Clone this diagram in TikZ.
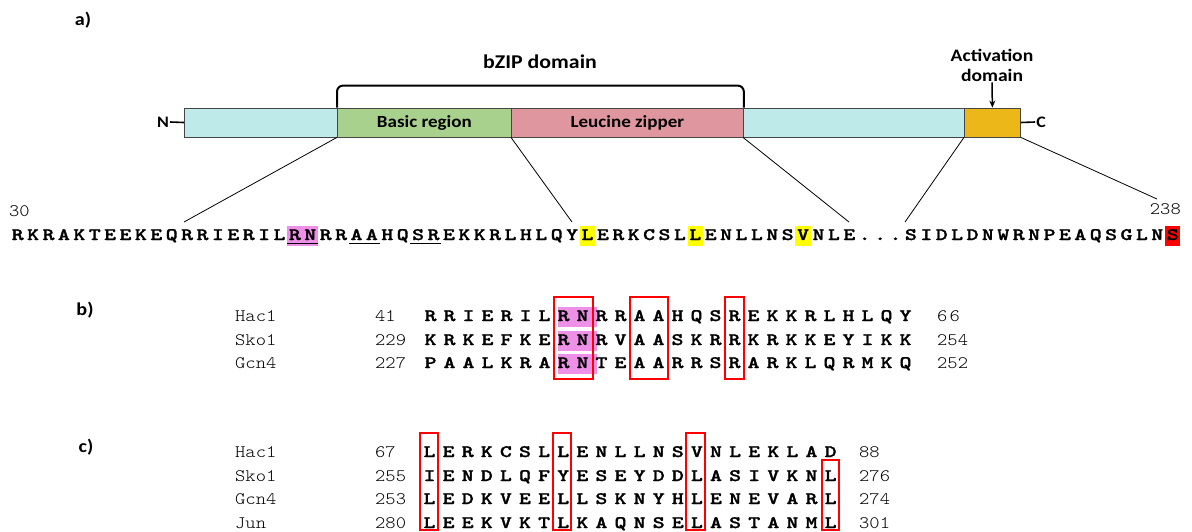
\documentclass[tikz,border=0pt]{standalone}
\usepackage{fontspec}
\setmainfont{Carlito}
\newfontfamily\seqfont[FakeBold=1.3]{lmmonolt10-bold.otf}
\usepackage{graphicx}
\usetikzlibrary{arrows.meta}
\definecolor{cyanseg}{RGB}{190,234,234}
\definecolor{greenseg}{RGB}{169,209,142}
\definecolor{pinkseg}{RGB}{224,150,158}
\definecolor{orangeseg}{RGB}{236,183,24}
\definecolor{hlmag}{RGB}{238,144,232}
\definecolor{hlyel}{RGB}{255,255,0}
\definecolor{hlred}{RGB}{255,0,0}
\definecolor{boxred}{RGB}{255,0,0}
\definecolor{segborder}{RGB}{70,70,70}
\newcommand\hsc[1]{\scalebox{1.12}[1]{#1}}
\newcommand\hsb[1]{\scalebox{1.3}[1]{#1}}
\newcommand\alnrow[5]{\foreach \c [count=\i from 0] in {#5} \node[seqch] (#1\i) at ({#2+#3*\i},#4) {\hsb{\c}};}
\tikzset{
  seg/.style={draw=segborder, line width=0.8pt, minimum height=29pt, inner sep=0pt, anchor=west,
    font=\fontsize{17}{20}\selectfont\bfseries},
  toplabel/.style={font=\fontsize{19.5}{22}\selectfont\bfseries, inner sep=1pt},
  actlabel/.style={font=\fontsize{17.5}{20}\selectfont\bfseries, inner sep=1pt, align=center},
  termlab/.style={font=\fontsize{16}{18}\selectfont\bfseries, inner sep=1pt},
  termline/.style={line width=1.6pt},
  panellab/.style={font=\fontsize{18}{20}\selectfont\bfseries, inner sep=0pt},
  zoomline/.style={line width=0.8pt},
  bracket/.style={line width=2pt, rounded corners=6pt},
  seqch/.style={font=\seqfont\fontsize{17.5}{18}\selectfont, inner sep=0pt, anchor=base},
  namel/.style={font=\ttfamily\fontseries{l}\fontsize{17.5}{18}\selectfont, inner sep=0pt, anchor=base west},
  uline/.style={line width=1.3pt},
  redbox/.style={draw=boxred, line width=1.8pt},
}
\begin{document}
\begin{tikzpicture}[x=1pt,y=-1pt]
\useasboundingbox (0,0) rectangle (1192,531);
% panel labels
\node[panellab] (pa) at (83,20) {\hsc{a)}};
\node[panellab] (pb) at (85,310) {\hsc{b)}};
\node[panellab] (pc) at (86,447) {\hsc{c)}};
% bar
\node[seg, fill=cyanseg, minimum width=153pt] (nterm) at (184,122.5) {};
\node[seg, fill=greenseg, minimum width=174pt] (basic) at (337,122.5) {\hsc{Basic region}};
\node[seg, fill=pinkseg, minimum width=232pt] (leu) at (511,122.5) {\hsc{Leucine zipper}};
\node[seg, fill=cyanseg, minimum width=221pt] (mid) at (743,122.5) {};
\node[seg, fill=orangeseg, minimum width=56pt] (act) at (964,122.5) {};
\node[termlab] (nlab) at (163,122) {\hsc{N}};
\node[termlab] (clab) at (1041,122) {\hsc{C}};
\draw[termline] (nlab.east) -- (nterm.west);
\draw[termline] (act.east) -- (clab.west);
\draw[bracket] (basic.north west) -- ++(0,-22) -| (leu.north east);
\node[toplabel] (bzip) at (540,62) {\hsc{bZIP domain}};
\node[actlabel] (actlab) at (992,65) {{\bfseries\hsc{Activation}}\\{\bfseries\hsc{domain}}};
\draw[line width=1.5pt, -{Stealth[length=7pt,width=6pt]}] (actlab.south) -- (act.north);
% zoom lines
\coordinate (z1) at (184,222);
\coordinate (z2) at (572,222);
\coordinate (z3) at (849,222);
\coordinate (z4) at (905,222);
\coordinate (z5) at (1157,199);
\draw[zoomline] (basic.south west) -- (z1);
\draw[zoomline] (leu.south west) -- (z2);
\draw[zoomline] (mid.south west) -- (z3);
\draw[zoomline] (act.south west) -- (z4);
\draw[zoomline] (act.south east) -- (z5);
% top sequence
\node[namel, anchor=base west] (n30) at (9,216) {\hsc{30}};
\node[namel, anchor=base east] (n238) at (1181,214) {\hsc{238}};
\fill[hlmag] (287.2,226) rectangle (318,246);
\fill[hlyel] (579.8,226) rectangle (595.2,246);
\fill[hlyel] (687.6,226) rectangle (703,246);
\fill[hlyel] (795.4,226) rectangle (810.8,246);
\fill[hlred] (1165,226) rectangle (1180.4,246);
\foreach \c [count=\i from 0] in {R,K,R,A,K,T,E,E,K,E,Q,R,R,I,E,R,I,L,R,N,R,R,A,A,H,Q,S,R,E,K,K,R,L,H,L,Q,Y,L,E,R,K,C,S,L,L,E,N,L,L,N,S,V,N,L,E,.,.,.,S,I,D,L,D,N,W,R,N,P,E,A,Q,S,G,L,N,S}
  \node[seqch] (t\i) at ({17.7+15.4*\i},240) {\hsb{\c}};
\draw[uline] (287.2,243.7) -- (318,243.7);
\draw[uline] (348.8,243.7) -- (379.6,243.7);
\draw[uline] (410.4,243.7) -- (441.2,243.7);
% panel b
\fill[hlmag] (558,307) rectangle (597,327);
\fill[hlmag] (558,331) rectangle (597,351);
\fill[hlmag] (558,354) rectangle (597,374);
\node[namel] (bh) at (235,321) {\hsc{Hac1}};
\node[namel] (bs) at (235,345) {\hsc{Sko1}};
\node[namel] (bg) at (235,368) {\hsc{Gcn4}};
\node[namel] (bh1) at (375,321) {\hsc{41}};
\node[namel] (bs1) at (375,345) {\hsc{229}};
\node[namel] (bg1) at (375,368) {\hsc{227}};
\node[namel] (bh2) at (937,321) {\hsc{6\hspace{2pt}6}};
\node[namel] (bs2) at (937,345) {\hsc{254}};
\node[namel] (bg2) at (937,368) {\hsc{252}};
\alnrow{bha}{430.5}{19}{321}{R,R,I,E,R,I,L,R,N,R,R,A,A,H,Q,S,R,E,K,K,R,L,H,L,Q,Y}
\alnrow{bsa}{430.5}{19}{345}{K,R,K,E,F,K,E,R,N,R,V,A,A,S,K,R,R,K,R,K,K,E,Y,I,K,K}
\alnrow{bga}{430.5}{19}{368}{P,A,A,L,K,R,A,R,N,T,E,A,A,R,R,S,R,A,R,K,L,Q,R,M,K,Q}
\draw[redbox] (554,297) rectangle (593,379);
\draw[redbox] (630,297) rectangle (668,379);
\draw[redbox] (725,297) rectangle (744,379);
% panel c
\node[namel] (ch) at (235,457) {\hsc{Hac1}};
\node[namel] (cs) at (235,481) {\hsc{Sko1}};
\node[namel] (cg) at (235,504) {\hsc{Gcn4}};
\node[namel] (cj) at (235,528) {\hsc{Jun}};
\node[namel] (ch1) at (375,457) {\hsc{67}};
\node[namel] (cs1) at (375,481) {\hsc{255}};
\node[namel] (cg1) at (375,504) {\hsc{253}};
\node[namel] (cj1) at (375,528) {\hsc{280}};
\node[namel] (ch2) at (859,457) {\hsc{88}};
\node[namel] (cs2) at (859,481) {\hsc{276}};
\node[namel] (cg2) at (859,504) {\hsc{274}};
\node[namel] (cj2) at (859,528) {\hsc{301}};
\alnrow{cha}{429.5}{19.1}{457}{L,E,R,K,C,S,L,L,E,N,L,L,N,S,V,N,L,E,K,L,A,D}
\alnrow{csa}{429.5}{19.1}{481}{I,E,N,D,L,Q,F,Y,E,S,E,Y,D,D,L,A,S,I,V,K,N,L}
\alnrow{cga}{429.5}{19.1}{504}{L,E,D,K,V,E,E,L,L,S,K,N,Y,H,L,E,N,E,V,A,R,L}
\alnrow{cja}{429.5}{19.1}{528}{L,E,E,K,V,K,T,L,K,A,Q,N,S,E,L,A,S,T,A,N,M,L}
\draw[redbox] (420,433) rectangle (438,530);
\draw[redbox] (553,433) rectangle (571,530);
\draw[redbox] (686,433) rectangle (705,530);
\draw[redbox] (822,460) rectangle (839,530);
\end{tikzpicture}
\end{document}
